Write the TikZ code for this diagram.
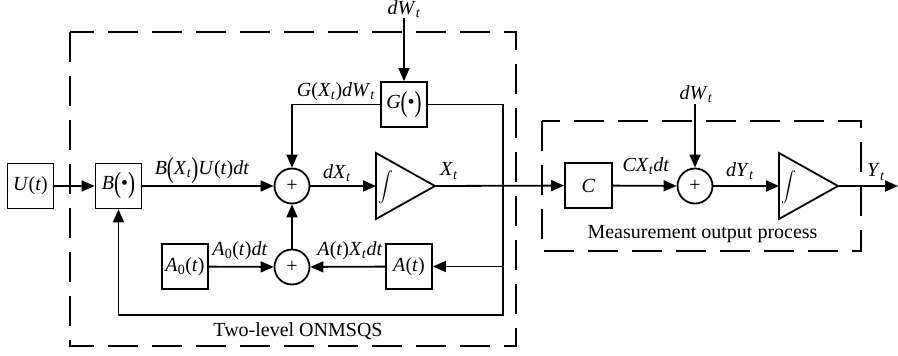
\documentclass[tikz,border=0pt]{standalone}
\usepackage{fontspec}
\setmainfont{Liberation Serif}
\usetikzlibrary{arrows.meta,calc}
\newcommand\ii[1]{\textit{#1}}
\newcommand\sbt{\textsubscript{\textit{t}}}
\newcommand\sbz{\textsubscript{0}}
\newcommand\bigp[1]{\raisebox{-0.16em}{\scalebox{1.05}[1.45]{#1}}}
\newcommand\intsym{\scalebox{1.5}{$\displaystyle\int$}}
\begin{document}
\begin{tikzpicture}[x=1pt,y=-1pt,
  every node/.style={font=\fontsize{20}{22}\selectfont, inner sep=0pt},
  blk/.style={draw, line width=1.8pt, minimum width=46pt, minimum height=45pt},
  sumc/.style={draw, line width=1.8pt, circle, minimum size=35pt},
  wire/.style={line width=1.8pt},
  arr/.style={line width=1.8pt, -{Triangle[length=13pt,width=11pt]}},
  dbox/.style={line width=1.8pt, dash pattern=on 30pt off 14pt},
  lbl/.style={font=\fontsize{20}{22}\selectfont}]
\useasboundingbox (0,0) rectangle (898,356);

% dashed boxes
\draw[dbox] (70,32) rectangle (516,346);
\draw[dbox] (542,121) rectangle (861,251);

% blocks
\node[blk] (U) at (30.5,186) {\ii{U}(\ii{t})};
\node[blk] (B) at (118.5,186) {\ii{B}\bigp{(}\textbullet\bigp{)}};
\node[sumc] (s1) at (292,186) {+};
\node[blk] (G) at (404,104.5) {\ii{G}\bigp{(}\textbullet\bigp{)}};
\node[sumc] (s3) at (292,267) {+};
\node[blk] (A0) at (185,266.5) {\ii{A}\sbz(\ii{t})};
\node[blk] (A) at (409,266.5) {\ii{A}(\ii{t})};
\node[blk, minimum width=47pt] (C) at (588.5,185.5) {\ii{C}};
\node[sumc] (s2) at (695,186) {+};

% integrators
\draw[wire, line join=miter] (376,153) -- (435,186) coordinate (i1o) -- (376,219) -- cycle;
\coordinate (i1i) at (376,186);
\node (int1) at (386,187) {\intsym};
\draw[wire, line join=miter] (779,153) -- (838,186) coordinate (i2o) -- (779,219) -- cycle;
\coordinate (i2i) at (779,186);
\node (int2) at (789,187) {\intsym};

% coordinates
\coordinate (w1) at (404,18);
\coordinate (w2) at (695,104);
\coordinate (fb) at (503,315);
\coordinate (jA) at (503,266.5);
\coordinate (out) at (898,186);

% connectors
\draw[arr] (U) -- (B);
\draw[arr] (B) -- (s1);
\draw[arr] (s1) -- (i1i);
\draw[arr] (i1o) -- (C);
\draw[arr] (w1) -- (G);
\draw[arr] (G.west) -| (s1.north);
\draw[arr] (G.east) -| (fb) -| (B.south);
\draw[arr] (jA) -- (A);
\draw[arr] (A) -- (s3);
\draw[arr] (A0) -- (s3);
\draw[arr] (s3) -- (s1);
\draw[arr] (C) -- (s2);
\draw[arr] (w2) -- (s2);
\draw[arr] (s2) -- (i2i);
\draw[arr] (i2o) -- (out);

% labels
\node[lbl] (lw1) at (404,9) {\ii{dW}\sbt};
\node[lbl] (lgx) at (336,92) {\ii{G}(\ii{X}\sbt)\ii{dW}\sbt};
\node[lbl] (lbx) at (202,171) {\ii{B}\bigp{(}\ii{X}\sbt\bigp{)}\ii{U}(\ii{t})\ii{dt}};
\node[lbl] (ldx) at (337,173) {\ii{dX}\sbt};
\node[lbl] (lx) at (449,171) {\ii{X}\sbt};
\node[lbl] (la0) at (240,251) {\ii{A}\sbz(\ii{t})\ii{dt}};
\node[lbl] (lax) at (350,251) {\ii{A}(\ii{t})\ii{X}\sbt\ii{dt}};
\node[lbl] (ltl) at (298,331) {Two-level ONMSQS};
\node[lbl] (lcx) at (646,166) {\ii{CX}\sbt\ii{dt}};
\node[lbl] (lw2) at (696,94) {\ii{dW}\sbt};
\node[lbl] (ldy) at (740,171) {\ii{dY}\sbt};
\node[lbl] (ly) at (876,172) {\ii{Y}\sbt};
\node[lbl] (lmo) at (702.5,234) {Measurement output process};
\end{tikzpicture}
\end{document}
